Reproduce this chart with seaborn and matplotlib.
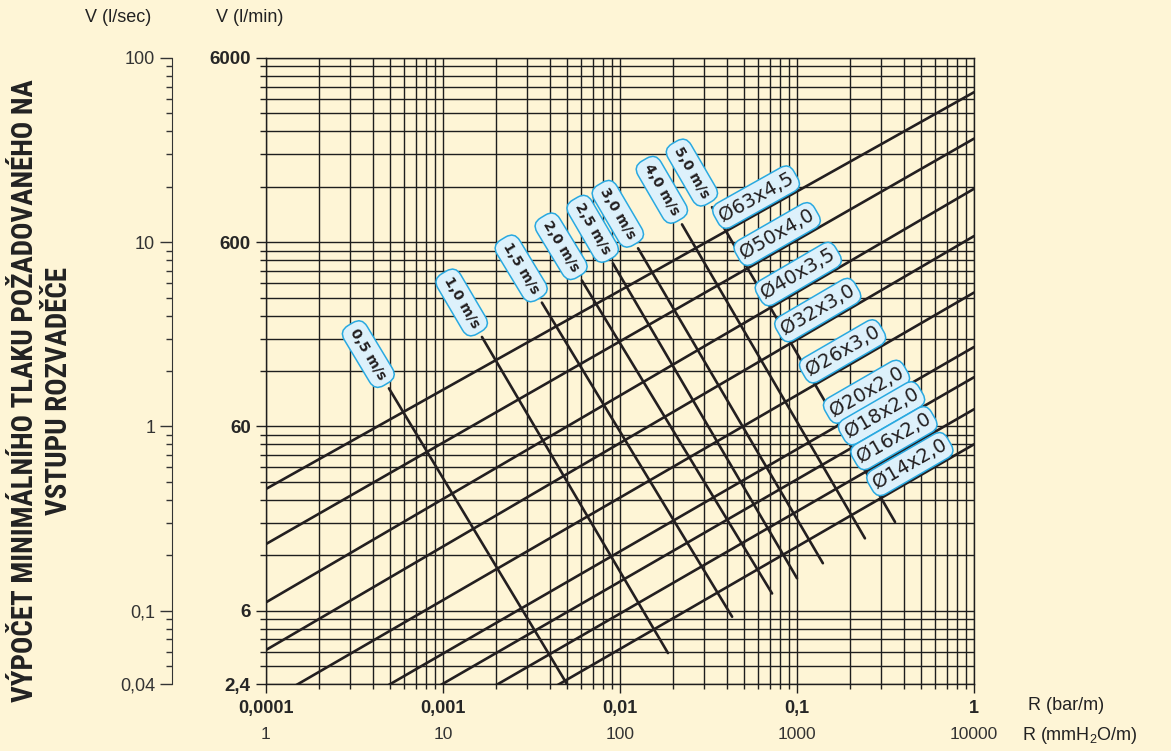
import numpy as np
import pandas as pd
import matplotlib
matplotlib.use("Agg")
import matplotlib.pyplot as plt
from matplotlib import font_manager
from matplotlib.ticker import FixedLocator, FuncFormatter, LogLocator, NullFormatter, NullLocator
import seaborn as sns

# pipe lines: flow V (l/s) at R = 0.0001 and at R = 1 bar/m
pipe_names = ["Ø63x4,5", "Ø50x4,0", "Ø40x3,5", "Ø32x3,0", "Ø26x3,0",
              "Ø20x2,0", "Ø18x2,0", "Ø16x2,0", "Ø14x2,0"]
pipe_r = [0.0001, 1.0]
pipe_q_low = [0.458, 0.230, 0.111, 0.0612, 0.0317, 0.0163, 0.0112, 0.0075, 0.0048]
pipe_q_high = [65.2, 36.5, 19.5, 10.8, 5.33, 2.70, 1.85, 1.24, 0.80]

# velocity lines: (R, V) at the upper (labelled) end and at the lower end
vel_names = ["0,5 m/s", "1,0 m/s", "1,5 m/s", "2,0 m/s",
             "2,5 m/s", "3,0 m/s", "4,0 m/s", "5,0 m/s"]
vel_r_top = [4.95e-4, 1.66e-3, 3.62e-3, 6.09e-3, 9.12e-3, 0.01265, 0.0224, 0.0331]
vel_q_top = [1.61, 3.06, 4.70, 6.20, 7.68, 9.27, 12.5, 15.5]
vel_r_end = [5.03e-3, 0.01866, 0.043, 0.0723, 0.100, 0.140, 0.242, 0.358]
vel_q_end = [0.0398, 0.0589, 0.0927, 0.124, 0.150, 0.181, 0.247, 0.303]

# axis ticks
y_major = [0.04, 0.1, 1, 10, 100]
mm_ticks = [1, 10, 100, 1000, 10000]

# where the pipe names sit along their lines (log10 R)
pipe_label_logr = [-1.19, -1.07, -0.95, -0.84, -0.70, -0.565, -0.48, -0.41, -0.32]

title = "VÝPOČET MINIMÁLNÍHO TLAKU POŽADOVANÉHO NA\nVSTUPU ROZVADĚČE"

bg = "#fef5d6"
ink = "#231f20"
box_fc = "#ddf1fb"
box_ec = "#29a9e0"

sns.set_style("ticks")
plt.rcParams["font.family"] = ["Liberation Sans", "DejaVu Sans"]

# narrow bold face for the side title if one is around
installed = {f.name for f in font_manager.fontManager.ttflist}
title_family = "DejaVu Sans"
for cand in ["Liberation Sans Narrow", "Roboto Condensed", "Open Sans Condensed", "Noto Sans Condensed"]:
    if cand in installed:
        title_family = cand
        break

fig = plt.figure(figsize=(11.71, 7.51), dpi=100)
fig.patch.set_facecolor(bg)
W, H = 1171, 751
ax = fig.add_axes([266 / W, 1 - 684 / H, 708 / W, 626 / H])
ax.set_facecolor(bg)
ax.set_xscale("log")
ax.set_yscale("log")
ax.set_xlim(1e-4, 1)
ax.set_ylim(0.04, 100)

# long table of all lines
rows = []
for name, q0, q1 in zip(pipe_names, pipe_q_low, pipe_q_high):
    rows.append((name, pipe_r[0], q0))
    rows.append((name, pipe_r[1], q1))
for name, rt, qt, re, qe in zip(vel_names, vel_r_top, vel_q_top, vel_r_end, vel_q_end):
    rows.append((name, rt, qt))
    rows.append((name, re, qe))
df = pd.DataFrame(rows, columns=["line", "R", "V"])

sns.lineplot(data=df, x="R", y="V", units="line", estimator=None, sort=False,
             color=ink, lw=1.9, ax=ax, legend=False)
ax.set_xlim(1e-4, 1)
ax.set_ylim(0.04, 100)
ax.set_xlabel("")
ax.set_ylabel("")

# grid and ticks
ax.xaxis.set_major_locator(LogLocator(base=10, numticks=10))
ax.xaxis.set_minor_locator(LogLocator(base=10, subs=np.arange(2, 10), numticks=40))
ax.xaxis.set_minor_formatter(NullFormatter())
ax.xaxis.set_major_formatter(FuncFormatter(lambda v, p: f"{v:g}".replace(".", ",")))
ax.yaxis.set_major_locator(FixedLocator(y_major))
ax.yaxis.set_minor_locator(LogLocator(base=10, subs=np.arange(2, 10), numticks=40))
ax.yaxis.set_minor_formatter(NullFormatter())
ax.yaxis.set_major_formatter(FuncFormatter(lambda v, p: f"{v * 60:g}".replace(".", ",")))
ax.grid(True, which="both", color="#1e1e1e", lw=1.0)
ax.set_axisbelow(True)
for s in ax.spines.values():
    s.set_color("#1e1e1e")
    s.set_linewidth(1.0)
ax.tick_params(axis="x", which="major", direction="out", length=6.5, width=1,
               color="#1e1e1e", pad=5, labelsize=13)
ax.tick_params(axis="x", which="minor", direction="out", length=3.3, width=1, color="#1e1e1e")
ax.tick_params(axis="y", which="major", direction="out", length=7, width=1,
               color="#1e1e1e", pad=4, labelsize=13.5)
ax.tick_params(axis="y", which="minor", direction="out", length=4.3, width=1, color="#1e1e1e")
for lab in ax.get_xticklabels() + ax.get_yticklabels():
    lab.set_fontweight("bold")

# l/sec axis on the far left
sec = ax.secondary_yaxis(-94 / 708)
sec.yaxis.set_major_locator(FixedLocator(y_major))
sec.yaxis.set_minor_locator(LogLocator(base=10, subs=np.arange(2, 10), numticks=40))
sec.yaxis.set_minor_formatter(NullFormatter())
sec.yaxis.set_major_formatter(FuncFormatter(lambda v, p: f"{v:g}".replace(".", ",")))
sec.spines["left"].set_color("#333333")
sec.tick_params(which="major", length=8.6, width=1, color="#333333", pad=3.5,
                labelsize=13, labelcolor="#333333")
sec.tick_params(which="minor", length=4, width=1, color="#333333")

# mmH2O/m labels under the bar/m labels
secx = ax.secondary_xaxis("bottom", functions=(lambda x: x * 1e4, lambda x: x / 1e4))
secx.xaxis.set_major_locator(FixedLocator(mm_ticks))
secx.xaxis.set_minor_locator(NullLocator())
secx.xaxis.set_major_formatter(FuncFormatter(lambda v, p: f"{v:g}"))
secx.spines["bottom"].set_visible(False)
secx.tick_params(length=0, pad=31, labelsize=12.5, labelcolor="#333333")

# velocity labels at the upper end of each velocity line
for name, rt, qt, re, qe in zip(vel_names, vel_r_top, vel_q_top, vel_r_end, vel_q_end):
    p_top = ax.transData.transform((rt, qt))
    p_end = ax.transData.transform((re, qe))
    d = (p_top - p_end) / np.hypot(*(p_top - p_end))
    ang = np.degrees(np.arctan2(d[1], d[0]))
    off = d * 40 * 0.72
    ax.annotate(name, xy=(rt, qt), xytext=(off[0], off[1]), textcoords="offset points",
                rotation=ang - 180, rotation_mode="anchor", ha="center", va="center",
                fontsize=10, fontweight="bold", family=["DejaVu Sans"], color=ink,
                bbox=dict(boxstyle="round,pad=0.45,rounding_size=0.75", fc=box_fc, ec=box_ec, lw=1.1),
                annotation_clip=False, zorder=5)

# pipe labels sitting on their lines
for name, q0, q1, lr in zip(pipe_names, pipe_q_low, pipe_q_high, pipe_label_logr):
    t = (lr - np.log10(pipe_r[0])) / (np.log10(pipe_r[1]) - np.log10(pipe_r[0]))
    q = 10 ** (np.log10(q0) + t * (np.log10(q1) - np.log10(q0)))
    p0 = ax.transData.transform((pipe_r[0], q0))
    p1 = ax.transData.transform((pipe_r[1], q1))
    d = (p1 - p0) / np.hypot(*(p1 - p0))
    ang = np.degrees(np.arctan2(d[1], d[0]))
    nrm = np.array([-d[1], d[0]]) * 15 * 0.72
    ax.annotate(name, xy=(10 ** lr, q), xytext=(nrm[0], nrm[1]), textcoords="offset points",
                rotation=ang, rotation_mode="anchor", ha="center", va="center",
                fontsize=14, family=["DejaVu Sans"], color=ink,
                bbox=dict(boxstyle="round,pad=0.22,rounding_size=0.5", fc=box_fc, ec=box_ec, lw=1.1),
                annotation_clip=False, zorder=5)

# headings and axis names
fig.text(118 / W, 1 - 18 / H, "V (l/sec)", ha="center", va="center", fontsize=13, color="#222222")
fig.text(250 / W, 1 - 18 / H, "V (l/min)", ha="center", va="center", fontsize=13, color="#222222")
fig.text(1028 / W, 1 - 705 / H, "R (bar/m)", ha="left", va="center", fontsize=13, color="#222222")
fig.text(1022 / W, 1 - 735 / H, r"R (mmH$_\mathregular{2}$O/m)", ha="left", va="center",
         fontsize=13, color="#222222")
side = fig.text(42 / W, 1 - 391 / H, title, rotation=90, ha="center", va="center",
                multialignment="center", fontsize=20, fontweight="bold",
                fontstretch="condensed", family=[title_family, "DejaVu Sans"],
                color="#222222", linespacing=1.25)

# fit the side title to the height it takes in the original (about 625 px)
fig.canvas.draw()
bb = side.get_window_extent(renderer=fig.canvas.get_renderer())
side.set_fontsize(20 * 625 / bb.height)

fig.savefig("out.png", dpi=100, facecolor=bg)
